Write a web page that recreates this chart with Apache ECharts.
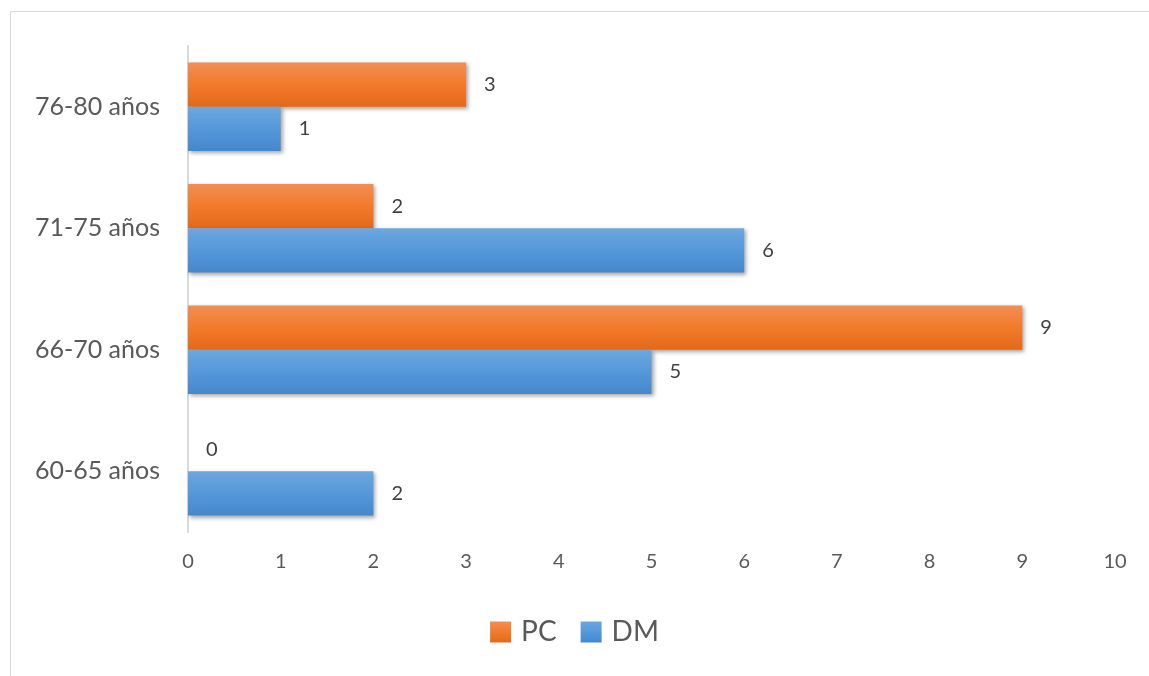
<!DOCTYPE html>
<html>
<head>
<meta charset="utf-8">
<script src="https://cdn.jsdelivr.net/npm/echarts@6/dist/echarts.min.js"></script>
<style>
  html, body { margin: 0; padding: 0; background: #fff; }
  #chart { width: 1149px; height: 676px; }
</style>
</head>
<body>
<div id="chart"></div>
<script>
const categories = ['60-65 años', '66-70 años', '71-75 años', '76-80 años']
const pcValues = [0, 9, 2, 3]
const dmValues = [2, 5, 6, 1]
const xTicks = { min: 0, max: 10, interval: 1 }

const grad = (top, mid, bottom) => ({
  type: 'linear',
  x: 0, y: 0, x2: 0, y2: 1,
  colorStops: [
    { offset: 0, color: top },
    { offset: 0.5, color: mid },
    { offset: 1, color: bottom },
  ],
})

const orange = grad('#f28e55', '#f27b2a', '#e2691b')
const blue = grad('#6da7de', '#5598da', '#4487cb')

const labelStyle = {
  show: true,
  position: 'right',
  distance: 18,
  color: '#404040',
  fontSize: 20,
  fontFamily: 'Lato',
}

const shadow = {
  shadowColor: 'rgba(0,0,0,0.35)',
  shadowBlur: 4,
  shadowOffsetX: 2,
  shadowOffsetY: 2,
}

const chart = echarts.init(document.getElementById('chart'))

chart.setOption({
  animation: false,
  graphic: [
    {
      type: 'rect',
      shape: { x: 10.5, y: 11.5, width: 1200, height: 720 },
      style: { fill: 'none', stroke: '#d9d9d9', lineWidth: 1 },
      silent: true,
    },
  ],
  grid: { left: 188, right: 34, top: 46, bottom: 144 },
  legend: {
    data: ['PC', 'DM'],
    top: 613,
    left: 'center',
    icon: 'rect',
    itemWidth: 21,
    itemHeight: 21,
    itemGap: 24,
    textStyle: { color: '#595959', fontSize: 28, fontFamily: 'Lato', padding: [0, 0, 0, 5] },
  },
  xAxis: {
    type: 'value',
    min: xTicks.min,
    max: xTicks.max,
    interval: xTicks.interval,
    axisLine: { show: false },
    axisTick: { show: false },
    splitLine: { show: false },
    axisLabel: { color: '#595959', fontSize: 20, fontFamily: 'Lato', margin: 20 },
  },
  yAxis: {
    type: 'category',
    data: categories,
    axisLine: { show: true, lineStyle: { color: '#d9d9d9', width: 2 } },
    axisTick: { show: false },
    axisLabel: { color: '#595959', fontSize: 25, fontFamily: 'Lato', margin: 28 },
  },
  series: [
    {
      name: 'PC',
      type: 'bar',
      data: pcValues,
      barCategoryGap: '27%',
      barGap: '0%',
      itemStyle: Object.assign({ color: orange }, shadow),
      label: labelStyle,
    },
    {
      name: 'DM',
      type: 'bar',
      data: dmValues,
      barCategoryGap: '27%',
      barGap: '0%',
      itemStyle: Object.assign({ color: blue }, shadow),
      label: labelStyle,
    },
  ],
})
</script>
</body>
</html>
